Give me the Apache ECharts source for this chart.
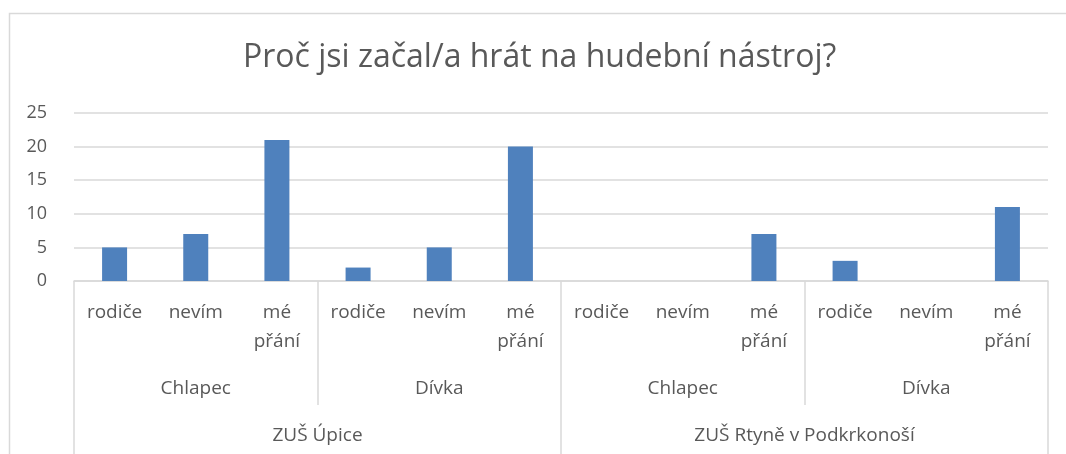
<!DOCTYPE html>
<html lang="cs">
<head>
<meta charset="UTF-8">
<title>Proč jsi začal/a hrát na hudební nástroj?</title>
<script src="https://cdn.jsdelivr.net/npm/echarts@6/dist/echarts.min.js"></script>
<style>
  html, body { margin: 0; padding: 0; background: #fff; }
  #main { width: 1066px; height: 454px; }
</style>
</head>
<body>
<div id="main"></div>
<script>
// data
var schools = ['ZUŠ Úpice', 'ZUŠ Rtyně v Podkrkonoší'];
var genders = ['Chlapec', 'Dívka', 'Chlapec', 'Dívka'];
var answers = ['rodiče', 'nevím', 'mé\npřání',
               'rodiče', 'nevím', 'mé\npřání',
               'rodiče', 'nevím', 'mé\npřání',
               'rodiče', 'nevím', 'mé\npřání'];
var counts = [5, 7, 21, 2, 5, 20, 0, 0, 7, 3, 0, 11];

var grey = '#d9d9d9';
var textColor = '#595959';
var font = 'Open Sans';

var myChart = echarts.init(document.getElementById('main'));

var option = {
  animation: false,
  textStyle: { fontFamily: font },
  title: {
    text: 'Proč jsi začal/a hrát na hudební nástroj?',
    left: 243,
    top: 42,
    padding: 0,
    textStyle: { color: textColor, fontSize: 32, fontWeight: 'normal', fontFamily: font }
  },
  graphic: [{
    type: 'polyline',
    shape: { points: [[9.5, 454], [9.5, 13.5], [1066, 13.5]] },
    style: { stroke: grey, lineWidth: 1.5, fill: null },
    silent: true
  }],
  grid: { left: 74, right: 18, top: 113, bottom: 173 },
  xAxis: [{
    type: 'category',
    data: answers,
    position: 'bottom',
    axisLine: { lineStyle: { color: grey, width: 1.5 } },
    axisTick: { show: false },
    axisLabel: {
      interval: 0, margin: 17, color: textColor, fontSize: 19,
      lineHeight: 29, fontFamily: font
    }
  }, {
    type: 'category',
    data: genders,
    position: 'bottom',
    axisLine: { show: false },
    axisTick: { show: true, interval: 0, length: 124, lineStyle: { color: grey, width: 1.5 } },
    axisLabel: { interval: 0, margin: 97, color: textColor, fontSize: 19, lineHeight: 22, fontFamily: font }
  }, {
    type: 'category',
    data: schools,
    position: 'bottom',
    axisLine: { show: false },
    axisTick: { show: true, interval: 0, length: 174, lineStyle: { color: grey, width: 1.5 } },
    axisLabel: { interval: 0, margin: 144, color: textColor, fontSize: 19, lineHeight: 22, fontFamily: font }
  }],
  yAxis: {
    type: 'value',
    min: 0,
    max: 25,
    interval: 5,
    axisLine: { show: false },
    axisTick: { show: false },
    splitLine: { lineStyle: { color: grey, width: 1.5 } },
    axisLabel: { margin: 27, color: textColor, fontSize: 18, fontFamily: font }
  },
  series: [{
    type: 'bar',
    xAxisIndex: 0,
    data: counts,
    barWidth: 25,
    itemStyle: { color: '#4f81bd' }
  }]
};
myChart.setOption(option);
</script>
</body>
</html>
